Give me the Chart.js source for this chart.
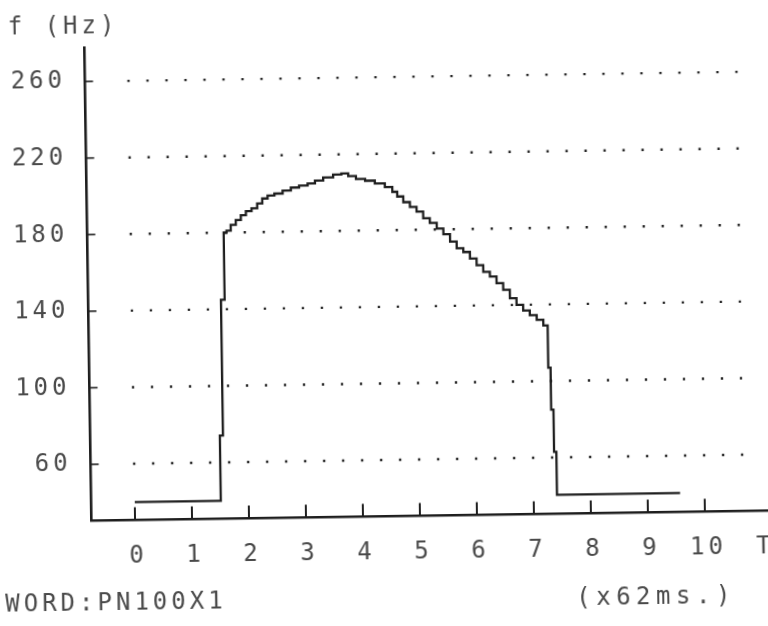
<!DOCTYPE html>
<html>
<head>
<meta charset="utf-8">
<script src="https://cdn.jsdelivr.net/npm/chart.js@4.4.1/dist/chart.umd.min.js"></script>
<style>
  html, body { margin: 0; padding: 0; background: #fff; overflow: hidden; }
  #wrap { width: 768px; height: 626px; position: relative; overflow: hidden; background: #fff; }
  /* the printout sits slightly askew on the page */
  canvas { display: block; transform: rotate(-0.85deg); transform-origin: 384px 313px; }
</style>
</head>
<body>
<div id="wrap"><canvas id="c" width="768" height="626"></canvas></div>
<script>
// Pitch contour of the word, time in frames of 62 ms
const timeFrames = [0, 1.50, 1.52, 1.61, 1.65, 1.71, 1.80, 1.89, 1.98, 2.07, 2.18, 2.27, 2.36, 2.46,
  2.60, 2.75, 2.89, 3.04, 3.19, 3.30, 3.48, 3.65, 3.77, 3.89, 4.04, 4.21, 4.38, 4.56, 4.64, 4.73,
  4.85, 4.96, 5.08, 5.19, 5.31, 5.43, 5.54, 5.66, 5.77, 5.89, 6.00, 6.12, 6.23, 6.35, 6.46, 6.58,
  6.69, 6.81, 6.92, 7.04, 7.16, 7.27, 7.31, 7.35, 7.39, 7.43, 9.57];
const pitchHz = [40, 40, 74, 145, 180, 181, 184, 186.5, 189, 191, 192.5, 195, 197.5, 199,
  200, 201.5, 203, 204, 205, 206.5, 208, 209.5, 210, 208.5, 207, 206, 204.5, 202.5, 200, 197.5,
  194.5, 192, 189.5, 186, 183.5, 180.5, 177.5, 173.5, 170, 168, 164.5, 161, 157.5, 155, 151.5, 148,
  143.5, 140, 137, 134.5, 132, 129, 107, 85, 63, 40.5, 40.5];

// Axis ticks and labels
const yTickValues = [60, 100, 140, 180, 220, 260];
const xTickValues = [0, 1, 2, 3, 4, 5, 6, 7, 8, 9, 10, 11];
const xTickLabels = ['0', '1', '2', '3', '4', '5', '6', '7', '8', '9', '10', 'T'];
const yAxisTitle = 'f (Hz)';
const wordLabel = 'WORD:PN100X1';
const unitLabel = '(x62ms.)';

const FONT_FAMILY = "'DejaVu Sans Mono', 'Liberation Mono', monospace";
const FONT_SIZE = 24;
const LETTER_SPACING = '4px';
const TEXT_COLOR = '#4a4a4a';
const INK = '#1e1e1e';

// Printer-style extras: wide character pitch, dotted reference rows,
// inward tick marks and the captions under the axis.
const printerLook = {
  id: 'printerLook',
  beforeLayout(chart) { chart.ctx.letterSpacing = LETTER_SPACING; },
  beforeDraw(chart) { chart.ctx.letterSpacing = LETTER_SPACING; },
  beforeDatasetsDraw(chart) {
    const { ctx, scales: { x, y } } = chart;
    ctx.save();
    ctx.strokeStyle = '#2a2a2a';
    ctx.lineWidth = 2.4;
    ctx.lineCap = 'butt';
    ctx.setLineDash([2.4, 16.6]);
    const gx0 = x.getPixelForValue(0) - 1.2;
    const gx1 = x.getPixelForValue(10.7);
    yTickValues.forEach(v => {
      const py = y.getPixelForValue(v);
      ctx.beginPath(); ctx.moveTo(gx0, py); ctx.lineTo(gx1, py); ctx.stroke();
    });
    ctx.setLineDash([]);
    ctx.strokeStyle = INK;
    ctx.lineWidth = 2;
    xTickValues.filter(v => v <= 10).forEach(v => {
      const px = x.getPixelForValue(v);
      ctx.beginPath(); ctx.moveTo(px, y.bottom); ctx.lineTo(px, y.bottom - 13); ctx.stroke();
    });
    ctx.lineWidth = 1.6;
    yTickValues.forEach(v => {
      const py = y.getPixelForValue(v);
      ctx.beginPath(); ctx.moveTo(x.left, py); ctx.lineTo(x.left + 8, py); ctx.stroke();
    });
    ctx.restore();
  },
  afterDraw(chart) {
    const ctx = chart.ctx;
    ctx.save();
    ctx.font = FONT_SIZE + 'px ' + FONT_FAMILY;
    ctx.fillStyle = TEXT_COLOR;
    ctx.textBaseline = 'middle';
    ctx.textAlign = 'left';
    ctx.letterSpacing = LETTER_SPACING;
    ctx.fillText(wordLabel, 1, 600);
    ctx.letterSpacing = '5.5px';
    ctx.fillText(unitLabel, 572, 602);
    ctx.restore();
  }
};

const tickFont = { family: FONT_FAMILY, size: FONT_SIZE, weight: 'normal' };

new Chart(document.getElementById('c'), {
  type: 'line',
  data: {
    datasets: [{
      data: timeFrames.map((t, i) => ({ x: t, y: pitchHz[i] })),
      borderColor: INK,
      borderWidth: 2.3,
      pointRadius: 0,
      fill: false,
      stepped: 'middle'
    }]
  },
  options: {
    responsive: false,
    animation: false,
    events: [],
    layout: { autoPadding: false, padding: { left: 12, right: 0, top: 0, bottom: 0 } },
    plugins: {
      legend: { display: false },
      tooltip: { enabled: false },
      title: {
        display: true,
        text: yAxisTitle,
        align: 'start',
        color: TEXT_COLOR,
        font: tickFont,
        padding: { top: 8.5, bottom: 6.3 }
      }
    },
    scales: {
      x: {
        type: 'linear',
        min: -0.763,
        max: 11.16,
        afterBuildTicks: s => { s.ticks = xTickValues.map(v => ({ value: v })); },
        afterFit: s => { s.height = 109.5; s.paddingLeft = 0; s.paddingRight = 0; },
        grid: { display: false, drawTicks: false },
        border: { display: true, color: INK, width: 2.6 },
        ticks: {
          autoSkip: false,
          maxRotation: 0,
          padding: 22,
          labelOffset: 3,
          color: TEXT_COLOR,
          font: tickFont,
          callback: v => xTickLabels[xTickValues.indexOf(v)]
        }
      },
      y: {
        type: 'linear',
        min: 30.5,
        max: 277.5,
        afterBuildTicks: s => { s.ticks = yTickValues.map(v => ({ value: v })); },
        afterFit: s => { s.width = 76.5; s.paddingTop = 0; s.paddingBottom = 0; },
        grid: { display: false, drawTicks: false },
        border: { display: true, color: INK, width: 2.6 },
        ticks: {
          padding: 19,
          color: TEXT_COLOR,
          font: tickFont,
          callback: v => String(v)
        }
      }
    }
  },
  plugins: [printerLook]
});
</script>
</body>
</html>
